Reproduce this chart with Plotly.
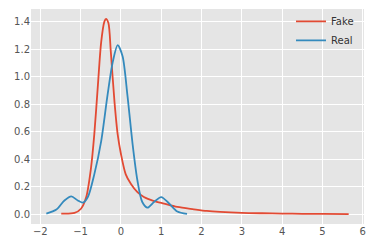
import plotly.graph_objects as go

fake_x = [-1.48, -1.15, -0.99, -0.86, -0.74, -0.66, -0.57, -0.49, -0.41, -0.37, -0.31, -0.25, -0.16, -0.08, 0.0, 0.12, 0.25, 0.41, 0.57, 0.82, 1.07, 1.40, 1.81, 2.13, 2.46, 3.0, 3.5, 4.0, 4.5, 5.0, 5.65]
fake_y = [0.005, 0.01, 0.04, 0.125, 0.34, 0.58, 0.94, 1.25, 1.40, 1.42, 1.39, 1.18, 0.82, 0.58, 0.44, 0.29, 0.22, 0.16, 0.125, 0.096, 0.077, 0.053, 0.036, 0.024, 0.017, 0.010, 0.007, 0.005, 0.003, 0.002, 0.001]

real_x = [-1.85, -1.60, -1.40, -1.23, -1.07, -0.94, -0.82, -0.66, -0.49, -0.33, -0.20, -0.08, 0.04, 0.16, 0.29, 0.41, 0.53, 0.66, 0.82, 1.0, 1.19, 1.40, 1.64]
real_y = [0.005, 0.034, 0.10, 0.13, 0.10, 0.084, 0.125, 0.29, 0.53, 0.87, 1.11, 1.23, 1.15, 0.87, 0.51, 0.245, 0.089, 0.048, 0.089, 0.125, 0.08, 0.02, 0.003]

x_ticks = [-2, -1, 0, 1, 2, 3, 4, 5, 6]
y_ticks = [0.0, 0.2, 0.4, 0.6, 0.8, 1.0, 1.2, 1.4]

fig = go.Figure()
fig.add_trace(go.Scatter(x=fake_x, y=fake_y, mode="lines", name="Fake",
                         line=dict(color="#E24A33", width=1.8, shape="spline", smoothing=0.8)))
fig.add_trace(go.Scatter(x=real_x, y=real_y, mode="lines", name="Real",
                         line=dict(color="#348ABD", width=1.8, shape="spline", smoothing=0.8)))

fig.update_layout(
    width=374, height=248,
    margin=dict(l=31, r=10, t=7, b=24),
    paper_bgcolor="white", plot_bgcolor="#E5E5E5",
    font=dict(family="DejaVu Sans", size=10, color="#555555"),
    showlegend=True,
    legend=dict(x=0.985, y=1.01, xanchor="right", yanchor="top", bgcolor="rgba(0,0,0,0)",
                font=dict(size=10, color="#333333"), itemwidth=30, tracegroupgap=0),
)
fig.update_xaxes(range=[-2.23, 6.03], tickvals=x_ticks, ticktext=[str(v).replace("-", "\u2212") for v in x_ticks],
                 showgrid=True, gridcolor="white", gridwidth=1, zeroline=False, showline=False, ticks="")
fig.update_yaxes(range=[-0.071, 1.492], tickvals=y_ticks, ticktext=[f"{v:.1f}" for v in y_ticks],
                 showgrid=True, gridcolor="white", gridwidth=1, zeroline=False, showline=False, ticks="")

fig.write_html("out.html")
